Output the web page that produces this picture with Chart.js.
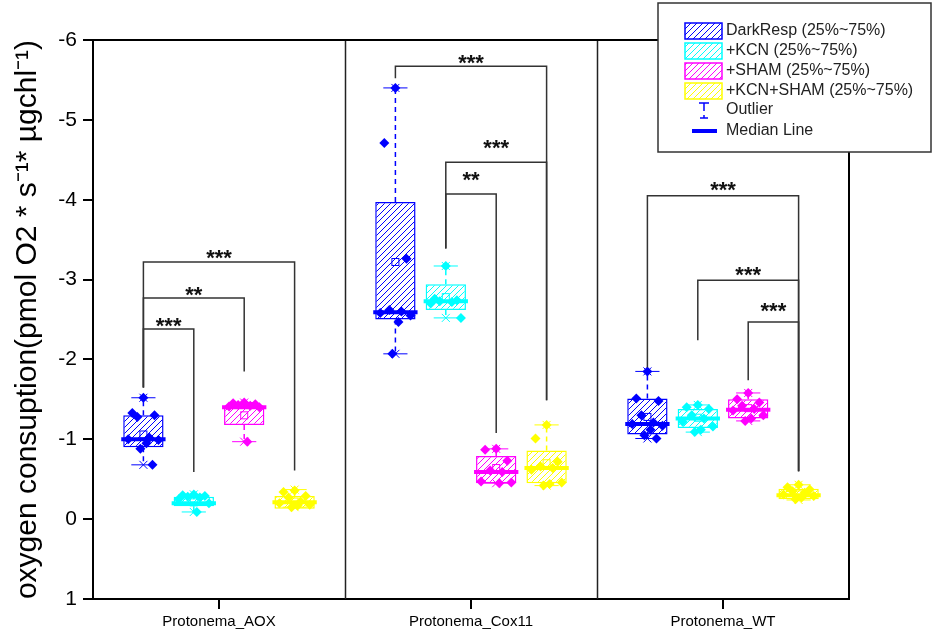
<!DOCTYPE html>
<html><head><meta charset="utf-8">
<script src="https://cdn.jsdelivr.net/npm/chart.js@4/dist/chart.umd.min.js"></script>
<style>html,body{margin:0;padding:0;background:#fff}#wrap{width:934px;height:634px;position:relative}</style>
</head><body><div id="wrap"><canvas id="c"></canvas></div>
<script>
// ---------- DATA ----------
const categories = ['Protonema_AOX', 'Protonema_Cox11', 'Protonema_WT'];
const seriesNames = ['DarkResp (25%~75%)', '+KCN (25%~75%)', '+SHAM (25%~75%)', '+KCN+SHAM (25%~75%)'];
const seriesColors = ['#0000ff', '#00ffff', '#ff00ff', '#ffff00'];
const yTicks = [-6, -5, -4, -3, -2, -1, 0, 1];
const yTitle = 'oxygen consuption(pmol O2 * s\u207B\u00B9* \u00B5gchl\u207B\u00B9)';

// DarkResp  [AOX, Cox11, WT]
const darkQ1 = [-0.90, -2.50, -1.06];
const darkQ3 = [-1.30, -3.97, -1.51];
const darkMedian = [-1.00, -2.59, -1.19];
const darkMean = [-1.06, -3.22, -1.28];
const darkMin = [-0.68, -2.07, -1.01];
const darkMax = [-1.52, -5.40, -1.85];
const darkPoints = [
  [-1.52, -1.33, -1.30, -1.28, -1.02, -1.00, -0.99, -0.95, -0.88, -0.68],
  [-5.40, -4.71, -3.26, -2.62, -2.60, -2.58, -2.55, -2.47, -2.07],
  [-1.85, -1.51, -1.48, -1.30, -1.21, -1.19, -1.17, -1.12, -1.05, -1.01]
];
// +KCN
const kcnQ1 = [-0.16, -2.62, -1.14];
const kcnQ3 = [-0.28, -2.94, -1.38];
const kcnMedian = [-0.20, -2.73, -1.26];
const kcnMean = [-0.21, -2.78, -1.27];
const kcnMin = [-0.09, -2.52, -1.09];
const kcnMax = [-0.31, -3.17, -1.43];
const kcnPoints = [
  [-0.31, -0.30, -0.29, -0.28, -0.27, -0.25, -0.20, -0.09],
  [-3.17, -2.76, -2.74, -2.73, -2.72, -2.70, -2.52],
  [-1.43, -1.40, -1.38, -1.30, -1.26, -1.22, -1.16, -1.12, -1.09]
];
// +SHAM
const shamQ1 = [-1.18, -0.45, -1.26];
const shamQ3 = [-1.42, -0.79, -1.50];
const shamMedian = [-1.40, -0.59, -1.37];
const shamMean = [-1.30, -0.64, -1.39];
const shamMin = [-0.97, -0.45, -1.23];
const shamMax = [-1.46, -0.88, -1.58];
const shamPoints = [
  [-1.46, -1.45, -1.44, -1.43, -1.42, -1.41, -1.40, -0.97],
  [-0.88, -0.87, -0.73, -0.61, -0.59, -0.47, -0.46, -0.45],
  [-1.58, -1.50, -1.46, -1.42, -1.38, -1.36, -1.30, -1.26, -1.23]
];
// +KCN+SHAM
const bothQ1 = [-0.13, -0.45, -0.25];
const bothQ3 = [-0.29, -0.86, -0.38];
const bothMedian = [-0.21, -0.64, -0.30];
const bothMean = [-0.22, -0.70, -0.31];
const bothMin = [-0.15, -0.42, -0.24];
const bothMax = [-0.37, -1.18, -0.43];
const bothPoints = [
  [-0.36, -0.34, -0.29, -0.27, -0.22, -0.20, -0.18, -0.17, -0.15],
  [-1.18, -1.01, -0.72, -0.66, -0.64, -0.62, -0.46, -0.44, -0.42],
  [-0.43, -0.40, -0.37, -0.35, -0.33, -0.31, -0.29, -0.27, -0.25]
];

// significance brackets
const sigGroup = [0, 0, 0, 1, 1, 1, 2, 2, 2];
const sigFrom = [0, 0, 0, 0, 1, 1, 0, 1, 2];
const sigTo = [3, 2, 1, 3, 3, 2, 3, 3, 3];
const sigLevel = [-3.22, -2.77, -2.38, -5.67, -4.47, -4.07, -4.05, -2.99, -2.47];
const sigLabelLevel = [-3.33, -2.87, -2.48, -5.78, -4.71, -4.31, -4.18, -3.12, -2.67];
const sigLabels = ['***', '**', '***', '***', '***', '**', '***', '***', '***'];
const sigDropEnds = [
  [-1.65, -0.59, -1.85, -0.61],
  [-5.52, -3.39, -1.08, -1.49],
  [-1.90, -2.24, -1.74, -0.60]
];

// ---------- BUILD ----------
Chart.defaults.font.family = '"Liberation Sans", Arial, sans-serif';
Chart.defaults.color = '#000';

const series = [
  {q1: darkQ1, q3: darkQ3, median: darkMedian, mean: darkMean, lo: darkMin, hi: darkMax, points: darkPoints},
  {q1: kcnQ1, q3: kcnQ3, median: kcnMedian, mean: kcnMean, lo: kcnMin, hi: kcnMax, points: kcnPoints},
  {q1: shamQ1, q3: shamQ3, median: shamMedian, mean: shamMean, lo: shamMin, hi: shamMax, points: shamPoints},
  {q1: bothQ1, q3: bothQ3, median: bothMedian, mean: bothMean, lo: bothMin, hi: bothMax, points: bothPoints}
];

function hatch(color) {
  const s = 6, c = document.createElement('canvas');
  c.width = s; c.height = s;
  const g = c.getContext('2d');
  g.fillStyle = '#fff'; g.fillRect(0, 0, s, s);
  g.strokeStyle = color; g.lineWidth = 1;
  g.beginPath();
  g.moveTo(0, s); g.lineTo(s, 0);
  g.moveTo(-1, 1); g.lineTo(1, -1);
  g.moveTo(s - 1, s + 1); g.lineTo(s + 1, s - 1);
  g.stroke();
  return g.createPattern(c, 'repeat');
}

// box slots inside each category (in category units)
const GROUP_PCT = 0.8;
const slot = GROUP_PCT / 4;
const half = slot * 0.8 / 2;
const jitter = [0, -0.55, 0.55, -0.3, 0.3, -0.75, 0.75, 0.15, -0.15, 0.45];
const slotX = (i, k) => i + (k - 1.5) * slot;

const datasets = [];
series.forEach((s, k) => {
  datasets.push({
    type: 'bar', label: seriesNames[k],
    data: s.q1.map((v, i) => ({x: slotX(i, k), y: [v, s.q3[i]]})),
    backgroundColor: hatch(seriesColors[k]), borderColor: seriesColors[k],
    borderWidth: 1.5, borderSkipped: false, grouped: false,
    categoryPercentage: 1, barPercentage: 0.8,
    xAxisID: 'xs', yAxisID: 'y', order: 2,
    boxIndex: k
  });
});
series.forEach((s, k) => {
  const pts = [];
  s.points.forEach((arr, i) => arr.forEach((v, j) => {
    pts.push({x: slotX(i, k) + jitter[j % jitter.length] * half, y: v});
  }));
  datasets.push({
    type: 'scatter', data: pts, xAxisID: 'xs', yAxisID: 'y',
    pointStyle: 'rectRot', pointRadius: 5, pointHoverRadius: 5,
    backgroundColor: seriesColors[k], borderColor: seriesColors[k], borderWidth: 0,
    order: 1, showLine: false
  });
});

const boxExtras = {
  id: 'boxExtras',
  beforeDatasetsDraw(chart) {
    const {ctx, chartArea: a} = chart;
    const x = chart.scales.x;
    ctx.save();
    ctx.strokeStyle = '#222'; ctx.lineWidth = 1.5;
    ctx.beginPath();
    for (let i = 0; i < categories.length - 1; i++) {
      const px = Math.round((x.getPixelForValue(i) + x.getPixelForValue(i + 1)) / 2) + 0.5;
      ctx.moveTo(px, a.top); ctx.lineTo(px, a.bottom);
    }
    ctx.stroke();
    ctx.strokeStyle = '#000'; ctx.lineWidth = 2;
    ctx.beginPath();
    ctx.moveTo(a.left, a.top); ctx.lineTo(a.right, a.top); ctx.lineTo(a.right, a.bottom);
    ctx.stroke();
    ctx.restore();
  },
  afterDatasetDraw(chart, args) {
    const ds = chart.data.datasets[args.index];
    if (ds.boxIndex === undefined) return;
    const s = series[ds.boxIndex];
    const col = seriesColors[ds.boxIndex];
    const y = chart.scales.y;
    const ctx = chart.ctx;
    ctx.save();
    args.meta.data.forEach((el, i) => {
      const cx = el.x, w = el.width;
      const topV = Math.min(s.q1[i], s.q3[i]), botV = Math.max(s.q1[i], s.q3[i]);
      ctx.strokeStyle = col; ctx.lineWidth = 1.5; ctx.setLineDash([5, 4]);
      ctx.beginPath();
      ctx.moveTo(cx, y.getPixelForValue(topV)); ctx.lineTo(cx, y.getPixelForValue(s.hi[i]));
      ctx.moveTo(cx, y.getPixelForValue(botV)); ctx.lineTo(cx, y.getPixelForValue(s.lo[i]));
      ctx.stroke();
      ctx.setLineDash([]);
      ctx.lineWidth = 1;
      [s.hi[i], s.lo[i]].forEach(v => {
        const py = y.getPixelForValue(v);
        ctx.beginPath();
        ctx.moveTo(cx - w * 0.3, py); ctx.lineTo(cx + w * 0.3, py);
        ctx.moveTo(cx - 4, py - 4); ctx.lineTo(cx + 4, py + 4);
        ctx.moveTo(cx - 4, py + 4); ctx.lineTo(cx + 4, py - 4);
        ctx.stroke();
      });
      const my = y.getPixelForValue(s.median[i]);
      ctx.lineWidth = 4;
      ctx.beginPath(); ctx.moveTo(cx - w / 2 - 2, my); ctx.lineTo(cx + w / 2 + 2, my); ctx.stroke();
      const mm = y.getPixelForValue(s.mean[i]);
      ctx.lineWidth = 1;
      ctx.strokeRect(cx - 3.5, mm - 3.5, 7, 7);
    });
    ctx.restore();
  },
  afterDatasetsDraw(chart) {
    const ctx = chart.ctx, y = chart.scales.y;
    ctx.save();
    ctx.strokeStyle = '#333'; ctx.lineWidth = 1.5;
    ctx.fillStyle = '#111';
    ctx.font = 'bold 22px "Liberation Sans", Arial, sans-serif';
    ctx.textAlign = 'center'; ctx.textBaseline = 'alphabetic';
    sigGroup.forEach((g, n) => {
      const x1 = chart.getDatasetMeta(sigFrom[n]).data[g].x;
      const x2 = chart.getDatasetMeta(sigTo[n]).data[g].x;
      const ly = y.getPixelForValue(sigLevel[n]);
      ctx.beginPath();
      ctx.moveTo(x1, y.getPixelForValue(sigDropEnds[g][sigFrom[n]]));
      ctx.lineTo(x1, ly); ctx.lineTo(x2, ly);
      ctx.lineTo(x2, y.getPixelForValue(sigDropEnds[g][sigTo[n]]));
      ctx.stroke();
      ctx.fillText(sigLabels[n], (x1 + x2) / 2, y.getPixelForValue(sigLabelLevel[n]) + 12);
    });
    ctx.restore();
  },
  afterDraw(chart) {
    const ctx = chart.ctx;
    const x0 = chart.width - 276, y0 = 3, w = 273, h = 149;
    ctx.save();
    ctx.fillStyle = '#fff'; ctx.fillRect(x0, y0, w, h);
    ctx.strokeStyle = '#333'; ctx.lineWidth = 1.5; ctx.strokeRect(x0, y0, w, h);
    ctx.font = '16px "Liberation Sans", Arial, sans-serif';
    ctx.textBaseline = 'middle'; ctx.textAlign = 'left';
    seriesNames.forEach((name, k) => {
      const top = y0 + 20 + k * 20;
      ctx.fillStyle = hatch(seriesColors[k]);
      ctx.fillRect(x0 + 27, top, 37, 16);
      ctx.strokeStyle = seriesColors[k]; ctx.lineWidth = 1.5;
      ctx.strokeRect(x0 + 27, top, 37, 16);
      ctx.fillStyle = '#222';
      ctx.fillText(name, x0 + 68, top + 8);
    });
    const blue = seriesColors[0];
    ctx.strokeStyle = blue; ctx.lineWidth = 1.5;
    ctx.beginPath();
    ctx.moveTo(x0 + 41, y0 + 100); ctx.lineTo(x0 + 51, y0 + 100);
    ctx.moveTo(x0 + 46, y0 + 100); ctx.lineTo(x0 + 46, y0 + 108);
    ctx.moveTo(x0 + 46, y0 + 112); ctx.lineTo(x0 + 46, y0 + 115);
    ctx.moveTo(x0 + 42, y0 + 115); ctx.lineTo(x0 + 50, y0 + 115);
    ctx.stroke();
    ctx.fillStyle = '#222';
    ctx.fillText('Outlier', x0 + 68, y0 + 107);
    ctx.lineWidth = 4;
    ctx.beginPath(); ctx.moveTo(x0 + 34, y0 + 128); ctx.lineTo(x0 + 59, y0 + 128); ctx.stroke();
    ctx.fillText('Median Line', x0 + 68, y0 + 128);
    ctx.restore();
  }
};

new Chart(document.getElementById('c'), {
  type: 'bar',
  data: {labels: categories, datasets},
  options: {
    responsive: true, maintainAspectRatio: false, animation: false,
    layout: {padding: {top: 40, right: 85, left: 0, bottom: 0}},
    plugins: {legend: {display: false}, tooltip: {enabled: false}},
    scales: {
      x: {
        type: 'category', offset: true,
        grid: {offset: false, drawOnChartArea: false, tickLength: 10, color: '#000', lineWidth: 2},
        border: {color: '#000', width: 2},
        ticks: {font: {size: 15}, color: '#000', padding: 4, maxRotation: 0},
        afterFit(s) { s.height = 35; }
      },
      xs: {type: 'linear', min: -0.5, max: 2.5, offset: false, grid: {offset: false}, display: false},
      y: {
        min: -6, max: 1, reverse: true,
        afterBuildTicks(s) { s.ticks = yTicks.map(v => ({value: v})); },
        ticks: {font: {size: 21}, color: '#000', padding: 6},
        grid: {drawOnChartArea: false, tickLength: 10, color: '#000', lineWidth: 2},
        border: {color: '#000', width: 2},
        title: {display: true, text: yTitle, font: {size: 30}, color: '#000', padding: {top: 10, bottom: 0}},
        afterFit(s) { s.width = 93; }
      }
    }
  },
  plugins: [boxExtras]
});
</script>
</body></html>
